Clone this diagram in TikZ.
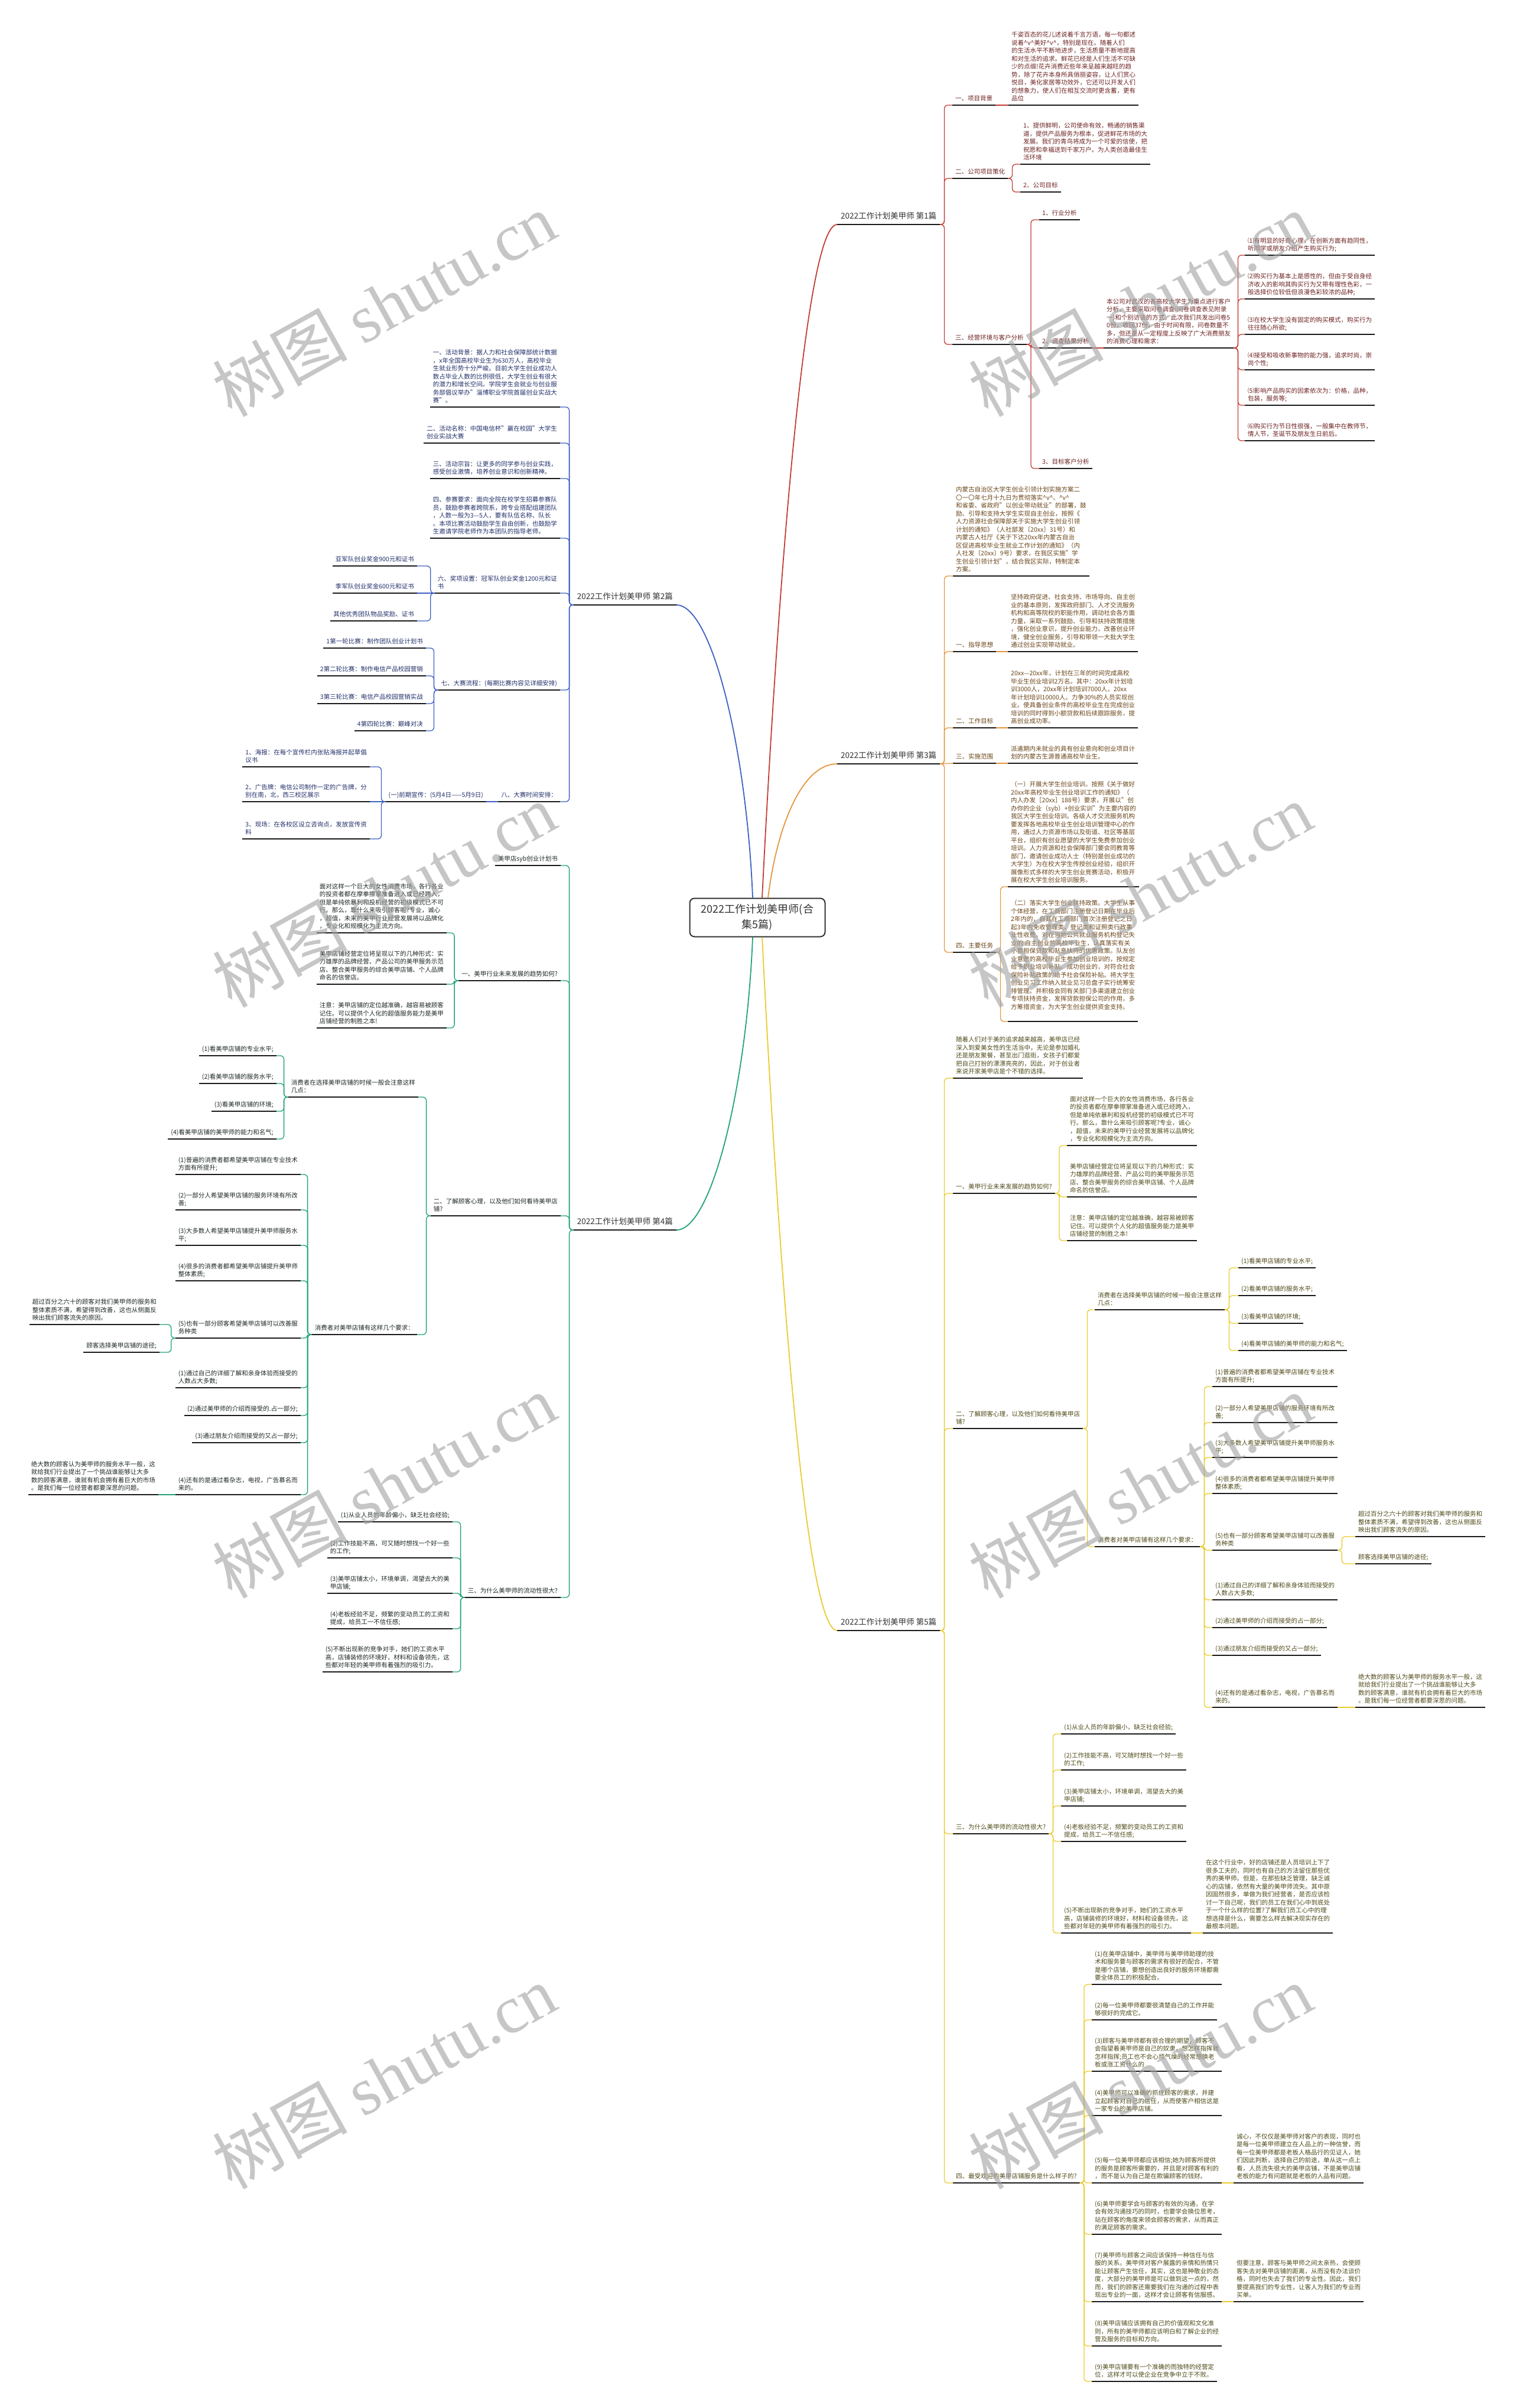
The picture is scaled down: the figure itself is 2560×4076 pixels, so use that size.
\documentclass[tikz,border=0pt]{standalone}
\usepackage{fontspec}
\setmainfont{Noto Sans CJK SC}
\newfontfamily\wmlat{Liberation Serif}
\newcommand\fsz{\fontsize{10.5pt}{13.5pt}\selectfont}
\newcommand\fsl{\fontsize{13.5pt}{16pt}\selectfont}
\newcommand\fct{\fontsize{18pt}{26pt}\selectfont}
\newcommand\vv{\textasciicircum v\textasciicircum}
\definecolor{rc}{HTML}{C23B33}
\definecolor{bc}{HTML}{3D5FC4}
\definecolor{oc}{HTML}{E3963E}
\definecolor{gc}{HTML}{21A27A}
\definecolor{yc}{HTML}{EACB2C}
\definecolor{t1}{HTML}{6E2222}
\definecolor{t2}{HTML}{22306A}
\definecolor{t3}{HTML}{6A4518}
\definecolor{t4}{HTML}{1E2A24}
\definecolor{t5}{HTML}{4F4A18}
\definecolor{labc}{HTML}{333333}
\definecolor{ulc}{HTML}{1A1A1A}
\newcommand\conR[3]{\draw[#1] (#2.south east) -- ++(7,0) |- (#3.south west);}
\newcommand\conL[3]{\draw[#1] (#2.south west) -- ++(-7,0) |- (#3.south east);}
\newcommand\conS[3]{\draw[#1] (#2.south east) -- (#3.south west);}
\newcommand\conSL[3]{\draw[#1] (#2.south west) -- (#3.south east);}
\tikzset{
  ulstyle/.style={draw=ulc, line width=1.5pt},
  ul/.style={append after command={(\tikzlastnode.south west) edge[ulstyle] (\tikzlastnode.south east)}},
  tx/.style={font=\fsz, align=left, inner xsep=5pt, inner ysep=5.5pt, text depth=1.5pt, ul},
  lab/.style={font=\fsl, inner xsep=6pt, inner ysep=7.5pt, text depth=2pt, text=labc, ul},
  R/.style={anchor=south west},
  L/.style={anchor=south east},
  c1/.style={draw=rc, line width=1.3pt, rounded corners=6pt},
  c2/.style={draw=bc, line width=1.3pt, rounded corners=6pt},
  c3/.style={draw=oc, line width=1.3pt, rounded corners=6pt},
  c4/.style={draw=gc, line width=1.3pt, rounded corners=6pt},
  c5/.style={draw=yc, line width=1.3pt, rounded corners=6pt},
  wm/.style={text=black!37, opacity=0.6, rotate=29, font=\fontsize{114pt}{118pt}\selectfont, inner sep=0pt},
}
\begin{document}
\begin{tikzpicture}[x=1pt,y=-1pt]
\fill[white] (0,0) rectangle (2560,4076);
\useasboundingbox (0,0) rectangle (2560,4076);

% ---------- center ----------
\node[draw=labc, line width=2pt, rounded corners=8pt, fill=white, minimum width=229pt, minimum height=65pt, align=center, font=\fct, text=labc] (ctr) at (1282,1553) {2022工作计划美甲师(合\\集5篇)};

% ---------- branch 1 ----------
\node[lab,R] (b1) at (1417,380) {2022工作计划美甲师 第1篇};
\node[tx,R,text=t1] (b1a) at (1612,178) {一、项目背景};
\node[tx,R,text=t1] (b1a1) at (1707,178) {千姿百态的花儿述说着千言万语，每一句都述\\说着\vv{}美好\vv{}，特别是现在。随着人们\\的生活水平不断地进步，生活质量不断地提高\\和对生活的追求。鲜花已经是人们生活不可缺\\少的点缀!花卉消费近些年来呈越来越旺的趋\\势，除了花卉本身所具俏丽姿容，让人们赏心\\悦目，美化家居等功效外，它还可以开发人们\\的想象力，使人们在相互交流时更含蓄，更有\\品位};
\node[tx,R,text=t1] (b1b) at (1612,302) {二、公司项目策化};
\node[tx,R,text=t1] (b1b1) at (1727,278) {1、提供鲜明，公司使命有效，畅通的销售渠\\道，提供产品服务为根本，促进鲜花市场的大\\发展。我们的青鸟将成为一个可爱的信使，把\\祝愿和幸福送到千家万户。为人类创造最佳生\\活环境};
\node[tx,R,text=t1] (b1b2) at (1727,325) {2、公司目标};
\node[tx,R,text=t1] (b1c) at (1612,583) {三、经营环境与客户分析};
\node[tx,R,text=t1] (b1c1) at (1759,372) {1、行业分析};
\node[tx,R,text=t1] (b1c2) at (1759,589) {2、调查结果分析};
\node[tx,R,text=t1] (b1c3) at (1759,793) {3、目标客户分析};
\node[tx,R,text=t1] (b1c2a) at (1868,589) {本公司对武汉的各高校大学生为重点进行客户\\分析，主要采取问卷调查(问卷调查表见附录\\一)和个别访谈的方式。此次我们共发出问卷5\\0份，收回37份。由于时间有限，问卷数量不\\多，但还是从一定程度上反映了广大消费朋友\\的消费心理和需求：};
\node[tx,R,text=t1] (b1d1) at (2107,432) {⑴有明显的好奇心理，在创新方面有趋同性，\\听同学或朋友介绍产生购买行为;};
\node[tx,R,text=t1] (b1d2) at (2107,506) {⑵购买行为基本上是感性的，但由于受自身经\\济收入的影响其购买行为又带有理性色彩，一\\般选择价位较低但浪漫色彩较浓的品种;};
\node[tx,R,text=t1] (b1d3) at (2107,566) {⑶在校大学生没有固定的购买模式，购买行为\\往往随心所欲;};
\node[tx,R,text=t1] (b1d4) at (2107,626) {⑷接受和吸收新事物的能力强，追求时尚，崇\\尚个性;};
\node[tx,R,text=t1] (b1d5) at (2107,686) {⑸影响产品购买的因素依次为：价格，品种，\\包装，服务等;};
\node[tx,R,text=t1] (b1d6) at (2107,746) {⑹购买行为节日性很强，一般集中在教师节，\\情人节，圣诞节及朋友生日前后。};
\conR{c1}{b1}{b1a}
\conS{c1}{b1a}{b1a1}
\conR{c1}{b1}{b1b}
\conR{c1}{b1b}{b1b1}
\conR{c1}{b1b}{b1b2}
\conR{c1}{b1}{b1c}
\conR{c1}{b1c}{b1c1}
\conR{c1}{b1c}{b1c2}
\conR{c1}{b1c}{b1c3}
\conS{c1}{b1c2}{b1c2a}
\foreach \i in {1,...,6} {\conR{c1}{b1c2a}{b1d\i}}

% ---------- branch 2 ----------
\node[lab,L] (b2) at (1145,1024) {2022工作计划美甲师 第2篇};
\node[tx,L,text=t2] (b2a) at (948,689) {一、活动背景：据人力和社会保障部统计数据\\，x年全国高校毕业生为630万人，高校毕业\\生就业形势十分严峻。目前大学生创业成功人\\数占毕业人数的比例很低，大学生创业有很大\\的潜力和增长空间。学院学生会就业与创业服\\务部倡议举办"淄博职业学院首届创业实战大\\赛"。};
\node[tx,L,text=t2] (b2b) at (948,750) {二、活动名称：中国电信杯"赢在校园"大学生\\创业实战大赛};
\node[tx,L,text=t2] (b2c) at (948,810) {三、活动宗旨：让更多的同学参与创业实践，\\感受创业激情，培养创业意识和创新精神。};
\node[tx,L,text=t2] (b2d) at (948,911) {四、参赛要求：面向全院在校学生招募参赛队\\员，鼓励参赛者跨院系，跨专业搭配组建团队\\，人数一般为3—5人，要有队伍名称、队长\\。本项比赛活动鼓励学生自由创新，也鼓励学\\生邀请学院老师作为本团队的指导老师。};
\node[tx,L,text=t2] (b2f) at (948,1004) {六、奖项设置：冠军队创业奖金1200元和证\\书};
\node[tx,L,text=t2] (b2f1) at (706,958) {亚军队创业奖金900元和证书};
\node[tx,L,text=t2] (b2f2) at (706,1004) {季军队创业奖金600元和证书};
\node[tx,L,text=t2] (b2f3) at (706,1051) {其他优秀团队物品奖励、证书};
\node[tx,L,text=t2] (b2g) at (948,1168) {七、大赛流程：(每期比赛内容见详细安排)};
\node[tx,L,text=t2] (b2g1) at (721,1097) {1第一轮比赛：制作团队创业计划书};
\node[tx,L,text=t2] (b2g2) at (721,1144) {2第二轮比赛：制作电信产品校园营销};
\node[tx,L,text=t2] (b2g3) at (721,1191) {3第三轮比赛：电信产品校园营销实战};
\node[tx,L,text=t2] (b2g4) at (721,1237) {4第四轮比赛：巅峰对决};
\node[tx,L,text=t2] (b2h) at (948,1357) {八、大赛时间安排：};
\node[tx,L,text=t2] (b2h1) at (823,1357) {(一)前期宣传：(5月4日——5月9日)};
\node[tx,L,text=t2] (b2h1a) at (626,1298) {1、海报：在每个宣传栏内张贴海报并起草倡\\议书};
\node[tx,L,text=t2] (b2h1b) at (626,1357) {2、广告牌：电信公司制作一定的广告牌，分\\别在南，北，西三校区展示};
\node[tx,L,text=t2] (b2h1c) at (626,1420) {3、现场：在各校区设立咨询点，发放宣传资\\料};
\foreach \n in {b2a,b2b,b2c,b2d,b2f,b2g,b2h} {\conL{c2}{b2}{\n}}
\conL{c2}{b2f}{b2f1}
\conSL{c2}{b2f}{b2f2}
\conL{c2}{b2f}{b2f3}
\foreach \n in {b2g1,b2g2,b2g3,b2g4} {\conL{c2}{b2g}{\n}}
\conSL{c2}{b2h}{b2h1}
\conL{c2}{b2h1}{b2h1a}
\conSL{c2}{b2h1}{b2h1b}
\conL{c2}{b2h1}{b2h1c}

% ---------- branch 3 ----------
\node[lab,R] (b3) at (1417,1293) {2022工作计划美甲师 第3篇};
\node[tx,R,text=t3] (b3a) at (1613,975) {内蒙古自治区大学生创业引领计划实施方案二\\〇一〇年七月十九日为贯彻落实\vv{}、\vv{}\\和省委、省政府"以创业带动就业"的部署，鼓\\励、引导和支持大学生实现自主创业，按照《\\人力资源社会保障部关于实施大学生创业引领\\计划的通知》（人社部发〔20xx〕31号）和\\内蒙古人社厅《关于下达20xx年内蒙古自治\\区促进高校毕业生就业工作计划的通知》（内\\人社发〔20xx〕9号）要求，在我区实施"学\\生创业引领计划"，结合我区实际，特制定本\\方案。};
\node[tx,R,text=t3] (b3b) at (1613,1103) {一、指导思想};
\node[tx,R,text=t3] (b3b1) at (1706,1103) {坚持政府促进、社会支持、市场导向、自主创\\业的基本原则，发挥政府部门、人才交流服务\\机构和高等院校的职能作用，调动社会各方面\\力量，采取一系列鼓励、引导和扶持政策措施\\，强化创业意识，提升创业能力，改善创业环\\境，健全创业服务，引导和带领一大批大学生\\通过创业实现带动就业。};
\node[tx,R,text=t3] (b3c) at (1613,1232) {二、工作目标};
\node[tx,R,text=t3] (b3c1) at (1706,1232) {20xx—20xx年，计划在三年的时间完成高校\\毕业生创业培训2万名。其中：20xx年计划培\\训3000人，20xx年计划培训7000人，20xx\\年计划培训10000人。力争30\%的人员实现创\\业。使具备创业条件的高校毕业生在完成创业\\培训的同时得到小额贷款和后续跟踪服务，提\\高创业成功率。};
\node[tx,R,text=t3] (b3d) at (1613,1292) {三、实施范围};
\node[tx,R,text=t3] (b3d1) at (1706,1292) {派遣期内未就业的具有创业意向和创业项目计\\划的内蒙古生源普通高校毕业生。};
\node[tx,R,text=t3] (b3e) at (1613,1612) {四、主要任务};
\node[tx,R,text=t3] (b3e1) at (1706,1501) {（一）开展大学生创业培训。按照《关于做好\\20xx年高校毕业生创业培训工作的通知》（\\内人办发［20xx］188号）要求，开展以"创\\办你的企业（syb）+创业实训"为主要内容的\\我区大学生创业培训。各级人才交流服务机构\\要发挥各地高校毕业生创业培训管理中心的作\\用，通过人力资源市场以及街道、社区等基层\\平台，组织有创业愿望的大学生免费参加创业\\培训。人力资源和社会保障部门要会同教育等\\部门，邀请创业成功人士（特别是创业成功的\\大学生）为在校大学生传授创业经验，组织开\\展像形式多样的大学生创业竞赛活动，积极开\\展在校大学生创业培训服务。};
\node[tx,R,text=t3] (b3e2) at (1706,1729) {（二）落实大学生创业扶持政策。大学生从事\\个体经营，在工商部门注册登记日期在毕业后\\2年内的，自其在工商部门首次注册登记之日\\起3年内免收管理类、登记类和证照类行政事\\业性收费。对在当地公共就业服务机构登记失\\业的 自主创业的高校毕业生，认真落实有关\\小额担保贷款和贴息扶持的优惠政策。队友创\\业意愿的高校毕业生参加创业培训的，按规定\\给予职业培训补贴。成功创业的，对符合社会\\保险补贴政策的给予社会保险补贴。将大学生\\创业见习工作纳入就业见习总盘子实行统筹安\\排管理。并积极会同有关部门多渠道建立创业\\专项扶持资金，发挥贷款担保公司的作用，多\\方筹措资金，为大学生创业提供资金支持。\\};
\conR{c3}{b3}{b3a}
\conR{c3}{b3}{b3b}
\conS{c3}{b3b}{b3b1}
\conR{c3}{b3}{b3c}
\conS{c3}{b3c}{b3c1}
\conS{c3}{b3}{b3d}
\conS{c3}{b3d}{b3d1}
\conR{c3}{b3}{b3e}
\conR{c3}{b3e}{b3e1}
\conR{c3}{b3e}{b3e2}

% ---------- branch 4 ----------
\node[lab,L] (b4) at (1145,2082) {2022工作计划美甲师 第4篇};
\node[tx,L,text=t4] (b4a) at (949,1465) {美甲店syb创业计划书};
\node[tx,L,text=t4] (b4b) at (949,1660) {一、美甲行业未来发展的趋势如何?};
\node[tx,L,text=t4] (b4b1) at (756,1579) {面对这样一个巨大的女性消费市场，各行各业\\的投资者都在摩拳擦掌准备进入或已经跨入，\\但是单纯依暴利和投机经营的初级模式已不可\\行。那么，靠什么来吸引顾客呢?专业，诚心\\，超值，未来的美甲行业经营发展将以品牌化\\，专业化和规模化为主流方向。};
\node[tx,L,text=t4] (b4b2) at (756,1666) {美甲店铺经营定位将呈现以下的几种形式：实\\力雄厚的品牌经营、产品公司的美甲服务示范\\店、整合美甲服务的综合美甲店铺、个人品牌\\命名的信誉店。};
\node[tx,L,text=t4] (b4b3) at (756,1740) {注意：美甲店铺的定位越准确，越容易被顾客\\记住。可以提供个人化的超值服务能力是美甲\\店铺经营的制胜之本!};
\node[tx,L,text=t4] (b4c) at (949,2058) {二、了解顾客心理，以及他们如何看待美甲店\\铺?};
\node[tx,L,text=t4] (b4c1) at (708,1857) {消费者在选择美甲店铺的时候一般会注意这样\\几点：};
\node[tx,L,text=t4] (b4c1a) at (468,1787) {(1)看美甲店铺的专业水平;};
\node[tx,L,text=t4] (b4c1b) at (468,1834) {(2)看美甲店铺的服务水平;};
\node[tx,L,text=t4] (b4c1c) at (468,1881) {(3)看美甲店铺的环境;};
\node[tx,L,text=t4] (b4c1d) at (468,1928) {(4)看美甲店铺的美甲师的能力和名气;};
\node[tx,L,text=t4] (b4c2) at (706,2259) {消费者对美甲店铺有这样几个要求：};
\node[tx,L,text=t4] (b4c2a) at (509,1988) {(1)普遍的消费者都希望美甲店铺在专业技术\\方面有所提升;};
\node[tx,L,text=t4] (b4c2b) at (509,2048) {(2)一部分人希望美甲店铺的服务环境有所改\\善;};
\node[tx,L,text=t4] (b4c2c) at (509,2108) {(3)大多数人希望美甲店铺提升美甲师服务水\\平;};
\node[tx,L,text=t4] (b4c2d) at (509,2168) {(4)很多的消费者都希望美甲店铺提升美甲师\\整体素质;};
\node[tx,L,text=t4] (b4c2e) at (509,2265) {(5)也有一部分顾客希望美甲店铺可以改善服\\务种类};
\node[tx,L,text=t4] (b4c2f) at (509,2349) {(1)通过自己的详细了解和亲身体验而接受的\\人数占大多数;};
\node[tx,L,text=t4] (b4c2g) at (509,2396) {(2)通过美甲师的介绍而接受的.占一部分;};
\node[tx,L,text=t4] (b4c2h) at (509,2442) {(3)通过朋友介绍而接受的又占一部分;};
\node[tx,L,text=t4] (b4c2i) at (509,2530) {(4)还有的是通过看杂志，电视，广告慕名而\\来的。};
\node[tx,L,text=t4] (b4c2e1) at (270,2242) {超过百分之六十的顾客对我们美甲师的服务和\\整体素质不满，希望得到改善，这也从侧面反\\映出我们顾客流失的原因。};
\node[tx,L,text=t4] (b4c2e2) at (270,2289) {顾客选择美甲店铺的途径;};
\node[tx,L,text=t4] (b4c2i1) at (268,2530) {绝大数的顾客认为美甲师的服务水平一般，这\\就给我们行业提出了一个挑战谁能够让大多\\数的顾客满意，谁就有机会拥有着巨大的市场\\。是我们每一位经营者都要深思的问题。};
\node[tx,L,text=t4] (b4d) at (949,2704) {三、为什么美甲师的流动性很大?};
\node[tx,L,text=t4] (b4d1) at (766,2576) {(1)从业人员的年龄偏小，缺乏社会经验;};
\node[tx,L,text=t4] (b4d2) at (766,2637) {(2)工作技能不高，可又随时想找一个好一些\\的工作;};
\node[tx,L,text=t4] (b4d3) at (766,2697) {(3)美甲店铺太小，环境单调，渴望去大的美\\甲店铺;};
\node[tx,L,text=t4] (b4d4) at (766,2757) {(4)老板经验不足，频繁的变动员工的工资和\\提成，给员工一不信任感;};
\node[tx,L,text=t4] (b4d5) at (766,2830) {(5)不断出现新的竞争对手，她们的工资水平\\高，店铺装修的环境好，材料和设备领先，这\\些都对年轻的美甲师有着强烈的吸引力。};
\foreach \n in {b4a,b4b,b4c,b4d} {\conL{c4}{b4}{\n}}
\foreach \n in {b4b1,b4b2,b4b3} {\conL{c4}{b4b}{\n}}
\conL{c4}{b4c}{b4c1}
\conL{c4}{b4c}{b4c2}
\foreach \n in {b4c1a,b4c1b,b4c1c,b4c1d} {\conL{c4}{b4c1}{\n}}
\foreach \n in {b4c2a,b4c2b,b4c2c,b4c2d,b4c2e,b4c2f,b4c2g,b4c2h,b4c2i} {\conL{c4}{b4c2}{\n}}
\conL{c4}{b4c2e}{b4c2e1}
\conL{c4}{b4c2e}{b4c2e2}
\conSL{c4}{b4c2i}{b4c2i1}
\foreach \n in {b4d1,b4d2,b4d3,b4d4,b4d5} {\conL{c4}{b4d}{\n}}

% ---------- branch 5 ----------
\node[lab,R] (b5) at (1417,2760) {2022工作计划美甲师 第5篇};
\node[tx,R,text=t5] (b5a) at (1613,1825) {随着人们对于美的追求越来越高，美甲店已经\\深入到爱美女性的生活当中，无论是参加婚礼\\还是朋友聚餐，甚至出门逛街，女孩子们都爱\\把自己打扮的漂漂亮亮的，因此，对于创业者\\来说开家美甲店是个不错的选择。};
\node[tx,R,text=t5] (b5b) at (1613,2020) {一、美甲行业未来发展的趋势如何?};
\node[tx,R,text=t5] (b5b1) at (1806,1939) {面对这样一个巨大的女性消费市场，各行各业\\的投资者都在摩拳擦掌准备进入或已经跨入，\\但是单纯依暴利和投机经营的初级模式已不可\\行。那么，靠什么来吸引顾客呢?专业，诚心\\，超值，未来的美甲行业经营发展将以品牌化\\，专业化和规模化为主流方向。};
\node[tx,R,text=t5] (b5b2) at (1806,2026) {美甲店铺经营定位将呈现以下的几种形式：实\\力雄厚的品牌经营、产品公司的美甲服务示范\\店、整合美甲服务的综合美甲店铺、个人品牌\\命名的信誉店。};
\node[tx,R,text=t5] (b5b3) at (1806,2100) {注意：美甲店铺的定位越准确，越容易被顾客\\记住。可以提供个人化的超值服务能力是美甲\\店铺经营的制胜之本!};
\node[tx,R,text=t5] (b5c) at (1613,2418) {二、了解顾客心理，以及他们如何看待美甲店\\铺?};
\node[tx,R,text=t5] (b5c1) at (1853,2217) {消费者在选择美甲店铺的时候一般会注意这样\\几点：};
\node[tx,R,text=t5] (b5c1a) at (2096,2146) {(1)看美甲店铺的专业水平;};
\node[tx,R,text=t5] (b5c1b) at (2096,2193) {(2)看美甲店铺的服务水平;};
\node[tx,R,text=t5] (b5c1c) at (2096,2240) {(3)看美甲店铺的环境;};
\node[tx,R,text=t5] (b5c1d) at (2096,2286) {(4)看美甲店铺的美甲师的能力和名气;};
\node[tx,R,text=t5] (b5c2) at (1853,2618) {消费者对美甲店铺有这样几个要求：};
\node[tx,R,text=t5] (b5c2a) at (2052,2347) {(1)普遍的消费者都希望美甲店铺在专业技术\\方面有所提升;};
\node[tx,R,text=t5] (b5c2b) at (2052,2408) {(2)一部分人希望美甲店铺的服务环境有所改\\善;};
\node[tx,R,text=t5] (b5c2c) at (2052,2467) {(3)大多数人希望美甲店铺提升美甲师服务水\\平;};
\node[tx,R,text=t5] (b5c2d) at (2052,2528) {(4)很多的消费者都希望美甲店铺提升美甲师\\整体素质;};
\node[tx,R,text=t5] (b5c2e) at (2052,2624) {(5)也有一部分顾客希望美甲店铺可以改善服\\务种类};
\node[tx,R,text=t5] (b5c2f) at (2052,2708) {(1)通过自己的详细了解和亲身体验而接受的\\人数占大多数;};
\node[tx,R,text=t5] (b5c2g) at (2052,2755) {(2)通过美甲师的介绍而接受的占一部分;};
\node[tx,R,text=t5] (b5c2h) at (2052,2802) {(3)通过朋友介绍而接受的又占一部分;};
\node[tx,R,text=t5] (b5c2i) at (2052,2890) {(4)还有的是通过看杂志，电视，广告慕名而\\来的。};
\node[tx,R,text=t5] (b5c2e1) at (2294,2601) {超过百分之六十的顾客对我们美甲师的服务和\\整体素质不满，希望得到改善，这也从侧面反\\映出我们顾客流失的原因。};
\node[tx,R,text=t5] (b5c2e2) at (2294,2647) {顾客选择美甲店铺的途径;};
\node[tx,R,text=t5] (b5c2i1) at (2294,2890) {绝大数的顾客认为美甲师的服务水平一般，这\\就给我们行业提出了一个挑战谁能够让大多\\数的顾客满意，谁就有机会拥有着巨大的市场\\。是我们每一位经营者都要深思的问题。};
\node[tx,R,text=t5] (b5d) at (1613,3104) {三、为什么美甲师的流动性很大?};
\node[tx,R,text=t5] (b5d1) at (1796,2935) {(1)从业人员的年龄偏小，缺乏社会经验;};
\node[tx,R,text=t5] (b5d2) at (1796,2996) {(2)工作技能不高，可又随时想找一个好一些\\的工作;};
\node[tx,R,text=t5] (b5d3) at (1796,3057) {(3)美甲店铺太小，环境单调，渴望去大的美\\甲店铺;};
\node[tx,R,text=t5] (b5d4) at (1796,3117) {(4)老板经验不足，频繁的变动员工的工资和\\提成，给员工一不信任感;};
\node[tx,R,text=t5] (b5d5) at (1796,3272) {(5)不断出现新的竞争对手，她们的工资水平\\高，店铺装修的环境好，材料和设备领先，这\\些都对年轻的美甲师有着强烈的吸引力。};
\node[tx,R,text=t5] (b5d5a) at (2036,3272) {在这个行业中，好的店铺还是人员培训上下了\\很多工夫的，同时也有自己的方法留住那些优\\秀的美甲师。但是，在那些缺乏管理，缺乏诚\\心的店铺，依然有大量的美甲师流失。其中原\\因固然很多，单做为我们经营者，是否应该检\\讨一下自己呢，我们的员工在我们心中到底处\\于一个什么样的位置?了解我们员工心中的理\\想选择是什么，需要怎么样去解决现实存在的\\最根本问题。};
\node[tx,R,text=t5] (b5e) at (1613,3695) {四、最受欢迎的美甲店铺服务是什么样子的?};
\node[tx,R,text=t5] (b5e1) at (1848,3359) {(1)在美甲店铺中，美甲师与美甲师助理的技\\术和服务要与顾客的需求有很好的配合，不管\\是哪个店铺，要想创造出良好的服务环境都需\\要全体员工的积极配合。};
\node[tx,R,text=t5] (b5e2) at (1848,3419) {(2)每一位美甲师都要很清楚自己的工作并能\\够很好的完成它。};
\node[tx,R,text=t5] (b5e3) at (1848,3506) {(3)顾客与美甲师都有很合理的期望，顾客不\\会指望着美甲师是自己的奴隶，想怎样指挥就\\怎样指挥;员工也不会心烦气燥的经常想换老\\板或涨工资什么的};
\node[tx,R,text=t5] (b5e4) at (1848,3581) {(4)美甲师可以准确的抓住顾客的需求，并建\\立起顾客对自己的信任，从而使客户相信这是\\一家专业的美甲店铺。};
\node[tx,R,text=t5] (b5e5) at (1848,3695) {(5)每一位美甲师都应该相信;她为顾客所提供\\的服务是顾客所需要的，并且是对顾客有利的\\，而不是认为自己是在欺骗顾客的钱财。};
\node[tx,R,text=t5] (b5e6) at (1848,3782) {(6)美甲师要学会与顾客的有效的沟通，在学\\会有效沟通技巧的同时，也要学会换位思考，\\站在顾客的角度来领会顾客的需求，从而真正\\的满足顾客的需求。};
\node[tx,R,text=t5] (b5e7) at (1848,3896) {(7)美甲师与顾客之间应该保持一种信任与信\\服的关系。美甲师对客户展露的亲情和热情只\\能让顾客产生信任，其实，这也是种敬业的态\\度，大部分的美甲师是可以做到这一点的，然\\而，我们的顾客还需要我们在沟通的过程中表\\现出专业的一面，这样才会让顾客有信服感。};
\node[tx,R,text=t5] (b5e8) at (1848,3971) {(8)美甲店铺应该拥有自己的价值观和文化准\\则，所有的美甲师都应该明白和了解企业的经\\营及服务的目标和方向。};
\node[tx,R,text=t5] (b5e9) at (1848,4031) {(9)美甲店铺要有一个准确的而独特的经营定\\位，这样才可以使企业在竞争中立于不败。};
\node[tx,R,text=t5] (b5e5a) at (2088,3695) {诚心，不仅仅是美甲师对客户的表现，同时也\\是每一位美甲师建立在人品上的一种信誉，而\\每一位美甲师都是老板人格品行的见证人，她\\们因此判断，选择自己的前途，单从这一点上\\看，人员流失很大的美甲店铺，不是美甲店铺\\老板的能力有问题就是老板的人品有问题。};
\node[tx,R,text=t5] (b5e7a) at (2088,3896) {但要注意，顾客与美甲师之间太亲热，会使顾\\客失去对美甲店铺的距离，从而没有办法谈价\\格，同时也失去了我们的专业性。因此，我们\\要提高我们的专业性，让客人为我们的专业而\\买单。};
\foreach \n in {b5a,b5b,b5c,b5d,b5e} {\conR{c5}{b5}{\n}}
\foreach \n in {b5b1,b5b2,b5b3} {\conR{c5}{b5b}{\n}}
\conR{c5}{b5c}{b5c1}
\conR{c5}{b5c}{b5c2}
\foreach \n in {b5c1a,b5c1b,b5c1c,b5c1d} {\conR{c5}{b5c1}{\n}}
\foreach \n in {b5c2a,b5c2b,b5c2c,b5c2d,b5c2e,b5c2f,b5c2g,b5c2h,b5c2i} {\conR{c5}{b5c2}{\n}}
\conR{c5}{b5c2e}{b5c2e1}
\conR{c5}{b5c2e}{b5c2e2}
\conS{c5}{b5c2i}{b5c2i1}
\foreach \n in {b5d1,b5d2,b5d3,b5d4,b5d5} {\conR{c5}{b5d}{\n}}
\conS{c5}{b5d5}{b5d5a}
\foreach \n in {b5e1,b5e2,b5e3,b5e4,b5e5,b5e6,b5e7,b5e8,b5e9} {\conR{c5}{b5e}{\n}}
\conS{c5}{b5e5}{b5e5a}
\conS{c5}{b5e7}{b5e7a}

% ---------- main connectors ----------
\draw[rc, line width=1.8pt] ([xshift=8pt]ctr.north) .. controls +(20,-400) and +(-60,0) .. (b1.south west);
\draw[oc, line width=1.8pt] ([xshift=18pt]ctr.north) .. controls +(15,-120) and +(-60,0) .. (b3.south west);
\draw[yc, line width=1.8pt] ([xshift=8pt]ctr.south) .. controls +(20,400) and +(-60,0) .. (b5.south west);
\draw[bc, line width=1.8pt] ([xshift=-8pt]ctr.north) .. controls +(-10,-250) and +(60,0) .. (b2.south east);
\draw[gc, line width=1.8pt] ([xshift=-8pt]ctr.south) .. controls +(-10,250) and +(60,0) .. (b4.south east);

% ---------- watermarks ----------
\foreach \wx in {650,1930} {
  \foreach \wy in {515,1515,2515,3515} {
    \node[wm] (w\wx\wy) at (\wx,\wy) {树图 {\wmlat shutu.cn}};
  }
}
\end{tikzpicture}
\end{document}
